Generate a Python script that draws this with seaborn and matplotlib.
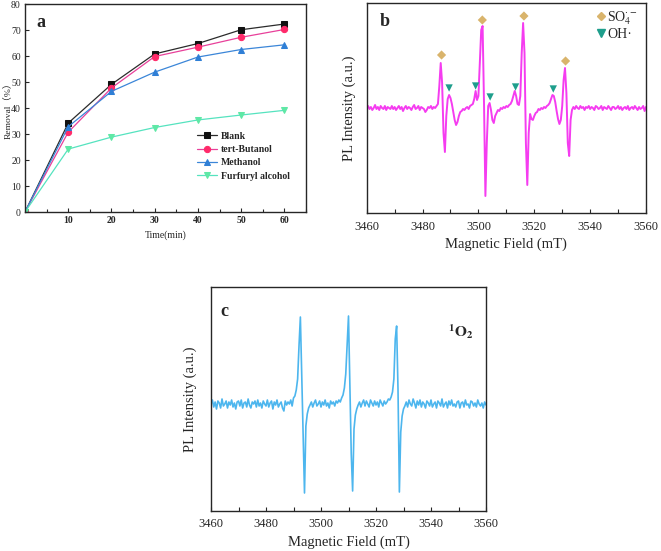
import numpy as np
import pandas as pd
import matplotlib
matplotlib.use("Agg")
import matplotlib.pyplot as plt
import seaborn as sns

# ---------------- data: panel a ----------------
time_min = [0, 10, 20, 30, 40, 50, 60]
blank = [0, 34.2, 49.1, 60.8, 64.8, 70.1, 72.3]
tert_butanol = [0, 30.7, 47.7, 59.8, 63.4, 67.2, 70.2]
methanol = [0, 32.8, 46.4, 53.8, 59.6, 62.5, 64.3]
furfuryl = [0, 24.2, 28.8, 32.5, 35.4, 37.3, 39.1]
series_names = ["Blank", "tert-Butanol", "Methanol", "Furfuryl alcohol"]

# ---------------- data: panel b (EPR, 0.5 mT steps from 3460 mT) ----------------
epr_b = (
    [0, 2, -1, 1, -2, 0, 3, -1, 1, -2, 2, 0, -1, 2, -2, 1, 0, -1, 2, -1]
    + [1, -2, 0, 2, -1, 1, -3, 0, 2, -1, 1, 0, -2, 1, 3, -1, 0, 2, -2, 1]
    + [0, -1, -4, -2, 1, 0, 2, -1, 1, 0, 2, 4, 22, 45, 25, -25, -44, -8, 9, 13]
    + [10, 4, -4, -12, -17, -14, -8, -4, -3, -1, -2, 0, 1, -1, 2, 3, 4, 9, 17, 8]
    + [12, 45, 78, 82, 5, -88, -35, 2, 5, -2, -12, -15, -8, -5, -2, -3, 0, -1, 1, 0]
    + [2, 1, 3, 4, 7, 12, 17, 12, 4, 3, 12, 55, 85, 55, -35, -77, -25, -6, -11, -12]
    + [-8, -5, -4, -1, -2, 0, -1, 1, 0, 2, 3, 5, 9, 13, 12, 6, -3, -11, -16, -12]
    + [2, 28, 40, 15, -35, -48, -12, -2, 1, -1, 2, 0, -1, 2, 0, 1, -2, 1, 0, 2]
    + [-1, 1, 0, -2, 2, 1, -1, 0, 2, -2, 1, 0, -1, 2, 0, -2, 1, 1, -1, 0]
    + [2, -1, 1, -2, 0, 1, -1, 2, -2, 0, 1, -1, 2, 0, -2, 1, -1, 0, 2, -3]
    + [1]
)
so4_x = [3486.8, 3501.4, 3516.3, 3531.2]
so4_y = [53, 88, 92, 47]
oh_x = [3489.5, 3499.0, 3504.2, 3513.3, 3526.8]
oh_y = [20, 22, 11, 21, 19]

# ---------------- data: panel c ----------------
epr_c = (
    [0, 4, -3, 2, -5, 3, 1, -4, 5, -2, 0, 3, -4, 2, -1, 4, -3, 1, -5, 2]
    + [3, -2, 4, -4, 1, 2, -3, 5, -1, -4, 2, 0, 3, -3, 4, -2, 1, -4, 3, 0]
    + [-2, 4, -3, 1, 3, -5, 2, -1, 4, -3, 0, 2, -4, -7, 3, -1, 2, 0, 4, -2]
    + [6, 8, 14, 25, 58, 87, 28, -35, -89, -22, -10, -4, -1, 2, -3, 1, 4, -2, 0, 3]
    + [-3, 2, -1, 4, -2, 1, -4, 3, 0, 2, -2, 3, 1, 4, 2, 6, 9, 16, 30, 60]
    + [88, 20, -50, -87, -25, -11, -5, -1, 2, -3, 1, 4, -2, 3, 0, -3, 4, 1, -2, 3]
    + [-1, 2, -3, 4, 1, -2, 3, 0, 2, 5, 4, 7, 12, 25, 65, 78, 15, -88, -28, -12]
    + [-5, -2, 2, -3, 4, 0, -2, 5, 1, -4, 3, -1, 4, -3, 2, 0, -4, 3, 1, -2]
    + [4, -3, 0, 2, -4, 3, 1, -2, 5, -3, 0, 2, -4, 3, -1, 4, -2, 0, -3, 2]
    + [3, -4, 1, 2, -3, 4, -1, 0, -4, 3, 2, -2, 1, -3, 4, 0, -2, 1, -4, 2]
    + [-1]
)
field_ticks = [3460, 3480, 3500, 3520, 3540, 3560]

# ---------------- style ----------------
sns.set_theme(style="ticks")
plt.rcParams["font.family"] = ["Liberation Serif", "Noto Sans CJK SC", "DejaVu Sans"]
plt.rcParams["mathtext.fontset"] = "stix"
plt.rcParams["axes.linewidth"] = 1.0
plt.rcParams["xtick.direction"] = "in"
plt.rcParams["ytick.direction"] = "in"

fig = plt.figure(figsize=(6.61, 5.51), dpi=100)
W, H = 661, 551


def axes_px(l, t, r, b):
    return fig.add_axes([l / W, 1 - b / H, (r - l) / W, (b - t) / H])


# ---------------- panel a ----------------
ax_a = axes_px(25, 4, 306, 212)
df_a = pd.DataFrame({
    "Time": time_min * 4,
    "Removal": blank + tert_butanol + methanol + furfuryl,
    "Series": sum([[n] * len(time_min) for n in series_names], []),
})
line_colors = {"Blank": "#2b2b2b", "tert-Butanol": "#e8409a",
               "Methanol": "#3b86d8", "Furfuryl alcohol": "#55e3bf"}
marker_colors = {"Blank": "#111111", "tert-Butanol": "#ff2a6a",
                 "Methanol": "#2f7fd6", "Furfuryl alcohol": "#5fe8a6"}
markers = {"Blank": "s", "tert-Butanol": "o", "Methanol": "^", "Furfuryl alcohol": "v"}
for name in series_names:
    sub = df_a[df_a["Series"] == name]
    sns.lineplot(data=sub, x="Time", y="Removal", ax=ax_a, color=line_colors[name],
                 marker=markers[name], markersize=4.5, markerfacecolor=marker_colors[name],
                 markeredgecolor=marker_colors[name], linewidth=0.9, label=name)
ax_a.set_xlim(0, 65)
ax_a.set_ylim(0, 80)
ax_a.set_xticks([10, 20, 30, 40, 50, 60])
ax_a.set_xticks([5, 15, 25, 35, 45, 55, 65], minor=True)
ax_a.set_yticks([0, 10, 20, 30, 40, 50, 60, 70, 80])
ax_a.tick_params(axis="both", which="major", labelsize=7, length=3, width=0.8, pad=3)
ax_a.tick_params(axis="x", which="minor", length=2.5, width=0.8)
for lbl in ax_a.get_xticklabels():
    lbl.set_fontweight("bold")
ax_a.set_xlabel("Time(min)", fontsize=7, labelpad=4)
ax_a.set_ylabel("Removal（%）", fontsize=6.8)
ax_a.yaxis.set_label_coords(-0.048, 0.5)
leg = ax_a.legend(loc="upper left", bbox_to_anchor=(0.6, 0.405), frameon=False,
                  prop={"weight": "bold", "size": 7, "family": "Liberation Serif"},
                  handlelength=2.0, handletextpad=0.4, labelspacing=0.45, borderaxespad=0)
ax_a.text(0.04, 0.95, "a", transform=ax_a.transAxes, fontsize=13, fontweight="bold",
          va="top", ha="left")

# ---------------- panel b ----------------
ax_b = axes_px(366.7, 3, 646, 213)
field_b = 3460 + 0.5 * np.arange(len(epr_b))
sns.lineplot(x=field_b, y=epr_b, ax=ax_b, color="#f53cf0", linewidth=1.4)
sns.scatterplot(x=so4_x, y=so4_y, ax=ax_b, marker="D", s=22, color="#d9b46c",
                edgecolor="none", zorder=5)
sns.scatterplot(x=oh_x, y=oh_y, ax=ax_b, marker="v", s=28, color="#1e9e8c",
                edgecolor="none", zorder=5)
ax_b.set_xlim(3460, 3560)
ax_b.set_ylim(-105, 105)
ax_b.set_xticks(field_ticks)
ax_b.set_xticks([3470, 3490, 3510, 3530, 3550], minor=True)
ax_b.set_yticks([])
ax_b.tick_params(axis="x", which="both", labelsize=9, length=3, width=0.8, pad=6)
ax_b.set_xlabel("Magnetic Field (mT)", fontsize=10.5, labelpad=3)
ax_b.set_ylabel("PL Intensity (a.u.)", fontsize=10.5, labelpad=8)
ax_b.text(0.045, 0.95, "b", transform=ax_b.transAxes, fontsize=13, fontweight="bold",
          va="top", ha="left")
hb1 = plt.Line2D([], [], marker="D", linestyle="none", color="#d9b46c", markersize=4.5)
hb2 = plt.Line2D([], [], marker="v", linestyle="none", color="#1e9e8c", markersize=5.5)
ax_b.legend([hb1, hb2], [r"SO$_4^{\cdot-}$", "OH·"], loc="upper right",
            bbox_to_anchor=(1.0, 1.01), frameon=False, fontsize=10,
            handlelength=0.6, handletextpad=0.2, labelspacing=0.1, borderaxespad=0.2)

# ---------------- panel c ----------------
ax_c = axes_px(211, 287, 486, 511)
field_c = 3460 + 0.5 * np.arange(len(epr_c))
sns.lineplot(x=field_c, y=epr_c, ax=ax_c, color="#4db6ee", linewidth=1.2)
ax_c.set_xlim(3460, 3560)
ax_c.set_ylim(-107, 117)
ax_c.set_xticks(field_ticks)
ax_c.set_xticks([3470, 3490, 3510, 3530, 3550], minor=True)
ax_c.set_yticks([])
ax_c.tick_params(axis="x", which="both", labelsize=9, length=3, width=0.8, pad=5)
ax_c.set_xlabel("Magnetic Field (mT)", fontsize=10.5, labelpad=4)
ax_c.set_ylabel("PL Intensity (a.u.)", fontsize=10.5, labelpad=10)
ax_c.text(0.035, 0.93, "c", transform=ax_c.transAxes, fontsize=13, fontweight="bold",
          va="top", ha="left")
ax_c.text(0.86, 0.80, r"$\mathbf{^{1}O_{2}}$", transform=ax_c.transAxes, fontsize=11,
          va="center", ha="left")

fig.savefig("out.png", dpi=100)
